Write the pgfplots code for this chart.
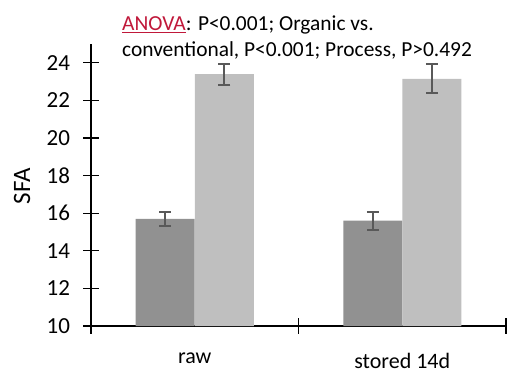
\documentclass[border=0pt]{standalone}
\usepackage{pgfplots}
\pgfplotsset{compat=1.18}
\usepackage{fontspec}
\setmainfont{Carlito}
\definecolor{barDark}{RGB}{145,145,145}
\definecolor{barLight}{RGB}{191,191,191}
\definecolor{errGray}{RGB}{89,89,89}
\definecolor{anovaRed}{RGB}{192,24,58}
\begin{document}
\begin{tikzpicture}
\path[use as bounding box] (-91bp,-44bp) rectangle (417bp,326bp);
\begin{axis}[
  at={(0,0)}, anchor=south west,
  scale only axis,
  width=415bp, height=282bp,
  xmin=0, xmax=2, ymin=10, ymax=25,
  axis lines=left,
  axis line style={line width=1.2pt, -},
  tick align=center,
  major tick length=15bp,
  tick style={line width=1.2pt, black},
  xtick={0,1,2},
  xticklabels={},
  extra x ticks={0.5,1.5},
  extra x tick labels={raw, stored 14d},
  extra x tick style={major tick length=0pt, tick style={draw=none}},
  ytick={10,12,14,16,18,20,22,24},
  /pgf/number format/assume math mode=true,
  yticklabel style={font=\fontsize{23bp}{26bp}\selectfont, xshift=-10bp},
  xticklabel style={font=\fontsize{22bp}{26bp}\selectfont, inner sep=0pt, yshift=-27bp},
  ylabel={SFA},
  ylabel style={font=\fontsize{25bp}{28bp}\selectfont, at={(axis description cs:-0.166,0.496)}, anchor=center},
  clip=false,
]
\addplot[ybar, bar width=59bp, bar shift=0pt, fill=barDark, draw=none,
  error bars/.cd, y dir=both, y explicit,
  error bar style={line width=2bp, errGray},
  error mark options={rotate=90, mark size=6bp, line width=2bp, errGray}]
  coordinates {(0.35783,15.7) +- (0,0.38) (1.35783,15.6) +- (0,0.47)};
\addplot[ybar, bar width=59bp, bar shift=0pt, fill=barLight, draw=none,
  error bars/.cd, y dir=both, y explicit,
  error bar style={line width=2bp, errGray},
  error mark options={rotate=90, mark size=6bp, line width=2bp, errGray}]
  coordinates {(0.64217,23.4) +- (0,0.56) (1.64217,23.15) +- (0,0.77)};
\end{axis}
\node[anchor=base west, inner sep=0pt, font=\fontsize{21.4bp}{24bp}\selectfont] at (31bp,295.3bp) {\textcolor{anovaRed}{\underline{ANOVA}}: P<0.001; Organic vs.};
\node[anchor=base west, inner sep=0pt, font=\fontsize{21.4bp}{24bp}\selectfont] at (31bp,269.3bp) {conventional, P<0.001; Process, P>0.492};
\end{tikzpicture}
\end{document}
